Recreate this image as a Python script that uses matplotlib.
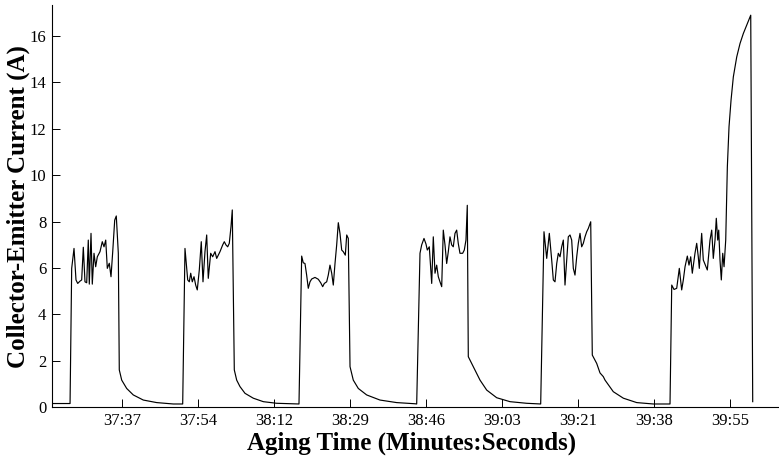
import matplotlib
matplotlib.use("Agg")
import matplotlib.pyplot as plt
import numpy as np

# Elapsed time in seconds since 37:21, collector-emitter current in amperes
t_seg = [
    # pulse 1
    [0.0, 4.1, 4.47, 5.0, 5.45, 5.84, 6.36, 6.74, 7.11, 7.49, 7.88, 8.24, 8.47, 8.86,
     9.15, 9.54, 9.92, 10.29, 10.9, 11.42, 11.81, 12.2, 12.56, 13.01, 13.4, 13.79,
     14.24, 14.6, 15.06, 15.28, 15.83, 16.96, 18.46, 20.73, 23.78, 27.55],
    # pulse 2
    [29.68, 30.2, 30.82, 31.18, 31.5, 31.86, 32.25, 32.63, 32.99, 33.45, 33.9, 34.29,
     34.74, 35.13, 35.49, 36.04, 36.49, 37.02, 37.4, 37.77, 38.15, 38.76, 39.13, 39.51,
     39.9, 40.26, 40.65, 40.94, 41.4, 41.94, 42.69, 43.83, 45.71, 47.99, 51.03, 55.93],
    # pulse 3
    [56.09, 56.7, 57.06, 57.45, 57.83, 58.2, 58.59, 58.97, 59.72, 60.47, 61.02, 61.47,
     61.84, 62.38, 62.74, 63.13, 63.52, 63.88, 64.27, 64.65, 65.02, 65.4, 65.79, 66.15,
     66.61, 66.93, 67.29, 67.68, 68.42, 69.56, 71.46, 74.48, 78.28, 82.43],
    # pulse 4
    [82.82, 83.57, 83.95, 84.48, 84.93, 85.23, 85.68, 86.23, 86.59, 86.98, 87.36, 87.73,
     88.11, 88.5, 88.86, 89.25, 89.63, 90.0, 90.38, 90.77, 91.13, 91.52, 91.9, 92.26,
     92.65, 93.26, 93.63, 94.01, 94.31, 94.54, 95.68, 97.2, 98.72, 100.99, 104.01, 107.8],
    # pulse 5
    [110.98, 111.73, 112.35, 112.94, 113.48, 113.85, 114.23, 114.62, 114.98, 115.37,
     115.75, 116.12, 116.5, 116.89, 117.25, 117.64, 118.02, 118.39, 118.77, 119.16,
     119.52, 119.91, 120.29, 120.66, 121.04, 121.43, 121.79, 122.34, 122.7, 123.7,
     124.45, 125.2, 125.59, 127.47, 129.75, 132.79, 136.56],
    # pulse 6 (final event)
    [140.35, 140.74, 141.26, 141.87, 142.46, 143.0, 143.37, 143.76, 144.28, 144.66,
     145.05, 145.41, 146.02, 146.41, 146.77, 147.0, 147.54, 147.91, 148.52, 148.82,
     149.43, 149.82, 150.18, 150.57, 150.86, 151.18, 151.41, 151.7, 152.0, 152.32,
     152.62, 153.0, 153.37, 153.75, 154.21, 154.73, 155.5, 156.25, 157.0, 157.77,
     158.68, 159.13],
]

i_seg = [
    [0.15, 0.15, 5.98, 6.84, 5.48, 5.33, 5.43, 5.48, 6.89, 5.40, 5.36, 7.2, 5.30, 7.49,
     5.30, 6.63, 6.05, 6.48, 6.70, 7.13, 6.91, 7.2, 5.98, 6.2, 5.62, 6.7,
     8.06, 8.24, 6.63, 1.6, 1.16, 0.8, 0.52, 0.3, 0.19, 0.13],
    [0.13, 6.84, 5.48, 5.4, 5.77, 5.4, 5.62, 5.26, 5.05, 5.91, 7.13, 5.4,
     6.7, 7.42, 5.55, 6.63, 6.48, 6.7, 6.41, 6.55, 6.7, 6.99, 7.13, 6.99,
     6.91, 7.06, 7.78, 8.5, 1.6, 1.16, 0.88, 0.59, 0.38, 0.23, 0.16, 0.13],
    [0.13, 6.51, 6.22, 6.19, 5.69, 5.12, 5.4, 5.52, 5.59, 5.51, 5.36, 5.19,
     5.33, 5.4, 5.69, 6.12, 5.77, 5.26, 6.19, 6.99, 7.95, 7.49, 6.77, 6.7,
     6.55, 7.42, 7.27, 1.74, 1.16, 0.8, 0.52, 0.3, 0.19, 0.14],
    [0.13, 6.63, 6.99, 7.27, 7.03, 6.77, 6.91, 5.33, 7.34, 5.77, 6.12, 5.62,
     5.4, 5.19, 7.63, 6.99, 6.19, 6.7, 7.34, 6.99, 6.91, 7.49, 7.63, 7.06,
     6.63, 6.63, 6.77, 7.2, 8.7, 2.17, 1.74, 1.16, 0.73, 0.4, 0.23, 0.16],
    [0.13, 7.56, 6.41, 7.49, 6.34, 5.48, 5.4, 6.19, 6.63, 6.48,
     6.91, 7.2, 5.26, 6.34, 7.34, 7.42, 7.2, 5.98, 5.69, 6.48,
     7.06, 7.49, 6.91, 7.06, 7.34, 7.56, 7.7, 7.99, 2.24, 1.88,
     1.47, 1.31, 1.16, 0.66, 0.38, 0.19, 0.13],
    [0.13, 5.26, 5.07, 5.12, 5.98, 5.05, 5.48, 6.05, 6.51, 6.12,
     6.48, 5.77, 6.63, 7.06, 6.48, 5.98, 7.49, 6.34, 6.05, 5.91,
     7.2, 7.63, 6.41, 7.2, 8.14, 7.2, 7.63, 6.34, 5.48, 6.63,
     6.05, 7.2, 10.36, 12.09, 13.24, 14.24, 15.1, 15.68, 16.11, 16.47,
     16.9, 0.23],
]

time_s = np.concatenate([np.asarray(s, float) for s in t_seg])
current_a = np.concatenate([np.asarray(s, float) for s in i_seg])

tick_times = [16.0, 33.25, 50.5, 67.75, 85.0, 102.25, 119.5, 136.75, 154.0]
tick_labels = ["37:37", "37:54", "38:12", "38:29", "38:46",
               "39:03", "39:21", "39:38", "39:55"]
y_ticks = [0, 2, 4, 6, 8, 10, 12, 14, 16]

plt.rcParams["font.family"] = ["Liberation Serif", "DejaVu Serif"]

fig = plt.figure(figsize=(7.79, 4.57), dpi=100)
ax = fig.add_axes([52 / 779, 1 - 407 / 457, 1 - 52 / 779, (407 - 5) / 457])

ax.plot(time_s, current_a, color="black", linewidth=0.85)

ax.set_xlim(0, 165.1)
ax.set_ylim(0, 17.34)
ax.set_xticks(tick_times)
ax.set_xticklabels(tick_labels)
ax.set_yticks(y_ticks)

for side in ("top", "right"):
    ax.spines[side].set_visible(False)
for side in ("left", "bottom"):
    ax.spines[side].set_linewidth(0.8)
    ax.spines[side].set_color("black")

ax.tick_params(axis="both", direction="in", length=6, width=0.7,
               labelsize=12, colors="black")
ax.tick_params(axis="x", pad=4)
ax.tick_params(axis="y", pad=4)

fig.text(412 / 779, 1 - 443 / 457, "Aging Time (Minutes:Seconds)",
         fontsize=18, fontweight="bold", ha="center", va="center")
fig.text(18 / 779, 1 - 207 / 457, "Collector-Emitter Current (A)",
         fontsize=18, fontweight="bold", ha="center", va="center", rotation=90)

fig.savefig("out.png", dpi=100)
